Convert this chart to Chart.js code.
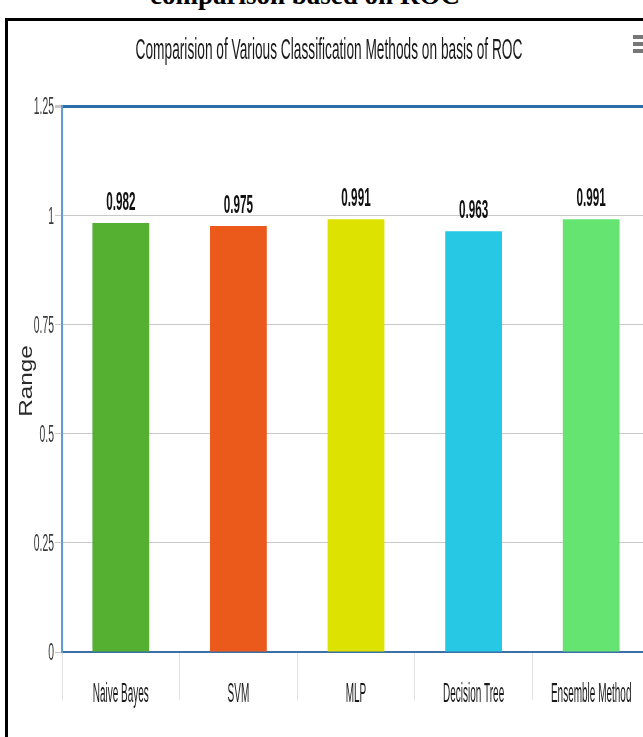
<!DOCTYPE html>
<html>
<head>
<meta charset="utf-8">
<script src="https://cdn.jsdelivr.net/npm/chart.js@4.4.1/dist/chart.umd.min.js"></script>
<style>
  html, body { margin: 0; padding: 0; background: #fff; overflow: hidden; width: 643px; height: 737px; }
  #caption { position: absolute; left: 0; width: 610px; top: -20px; text-align: center;
             font: bold 27px "Liberation Serif", "Times New Roman", serif; color: #000; white-space: nowrap; }
  #frame { position: absolute; left: 5px; top: 18px; width: 720px; height: 760px;
           border-left: 3px solid #000; border-top: 3px solid #000; }
  #wrap { position: absolute; left: 8px; top: 21px; width: 660px; height: 716px; }
  .menu { position: absolute; left: 633px; width: 12px; height: 4px; background: #777; }
</style>
</head>
<body>
<div id="caption">comparison based on ROC</div>
<div id="frame"></div>
<div id="wrap"><canvas id="c"></canvas></div>
<div class="menu" style="top:35px"></div>
<div class="menu" style="top:42px"></div>
<div class="menu" style="top:49px"></div>
<script>
const chartTitle = 'Comparision of Various Classification Methods on basis of ROC';
const yAxisTitle = 'Range';
const methods = ['Naive Bayes', 'SVM', 'MLP', 'Decision Tree', 'Ensemble Method'];
const rocValues = [0.982, 0.975, 0.991, 0.963, 0.991];
const barColors = ['#55b032', '#eb5a1b', '#dde200', '#27c8e3', '#66e472'];
const yTicks = [0, 0.25, 0.5, 0.75, 1, 1.25];
const yTickLabels = ['0', '0.25', '0.5', '0.75', '1', '1.25'];

const face = '"Liberation Sans", Arial, sans-serif';

// draw text squeezed (sx < 1) or stretched (sx > 1) along its own direction
function drawText(ctx, text, x, y, opts) {
  ctx.save();
  ctx.font = opts.font;
  ctx.fillStyle = opts.color || '#222';
  ctx.textAlign = opts.align || 'center';
  ctx.textBaseline = opts.baseline || 'alphabetic';
  ctx.translate(x, y);
  if (opts.rotate) ctx.rotate(opts.rotate);
  ctx.scale(opts.sx, 1);
  ctx.fillText(text, 0, 0);
  ctx.restore();
}

// title, axis title, tick labels and bar values in a tall narrow type
const narrowText = {
  id: 'narrowText',
  afterDraw(chart) {
    const ctx = chart.ctx;
    const area = chart.chartArea;
    const xs = chart.scales.x;
    const ys = chart.scales.y;

    drawText(ctx, chartTitle, 321, 38,
      { font: '30px ' + face, sx: 0.457, color: '#1a1a1a' });

    drawText(ctx, yAxisTitle, 19, (area.top + area.bottom) / 2 + 2,
      { font: '18px ' + face, sx: 1.35, rotate: -Math.PI / 2, baseline: 'middle', color: '#2a2a2a' });

    yTicks.forEach((v, i) => {
      drawText(ctx, yTickLabels[i], 46, ys.getPixelForValue(v) + 2,
        { font: '23px ' + face, sx: 0.45, align: 'right', baseline: 'middle', color: '#3a3a3a' });
    });

    methods.forEach((m, i) => {
      drawText(ctx, m, xs.getPixelForValue(i), xs.top + 50,
        { font: '27px ' + face, sx: 0.37, color: '#1a1a1a' });
    });

    const meta = chart.getDatasetMeta(0);
    meta.data.forEach((bar, i) => {
      drawText(ctx, String(rocValues[i]), bar.x, bar.y - 13,
        { font: 'bold 26px ' + face, sx: 0.45, color: '#111' });
    });
  }
};

new Chart(document.getElementById('c'), {
  type: 'bar',
  data: {
    labels: methods,
    datasets: [{
      data: rocValues,
      backgroundColor: barColors,
      borderWidth: 0,
      categoryPercentage: 1,
      barPercentage: 0.483
    }]
  },
  options: {
    responsive: true,
    maintainAspectRatio: false,
    animation: false,
    layout: { padding: { top: 85, right: 18, bottom: 35, left: 0 } },
    plugins: {
      legend: { display: false },
      tooltip: { enabled: false },
      title: { display: false }
    },
    scales: {
      x: {
        afterFit(scale) { scale.height = 50; },
        grid: {
          offset: true,
          drawOnChartArea: false,
          tickLength: 48,
          color: '#e2e2e2'
        },
        border: { display: true, color: '#3b6fa6', width: 2 },
        ticks: { display: false }
      },
      y: {
        min: 0,
        max: 1.25,
        afterBuildTicks(scale) {
          scale.ticks = yTicks.map(v => ({ value: v }));
        },
        afterFit(scale) { scale.width = 54; },
        grid: {
          color: ctx => ctx.tick && ctx.tick.value === 1.25 ? '#2b6ea9' : '#c8c8c8',
          lineWidth: ctx => ctx.tick && ctx.tick.value === 1.25 ? 3 : 1,
          tickColor: '#c8c8c8',
          tickLength: 7
        },
        border: { display: true, color: '#5d9ed6', width: 2 },
        ticks: { display: false }
      }
    }
  },
  plugins: [narrowText]
});
</script>
</body>
</html>
